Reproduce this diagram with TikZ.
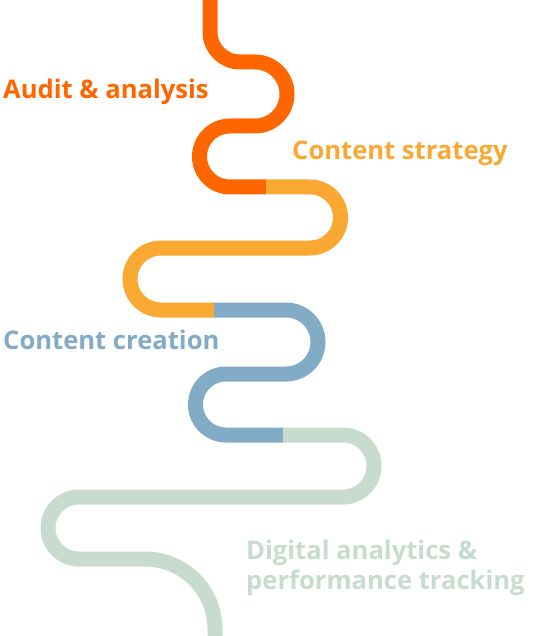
\documentclass[tikz,border=0pt]{standalone}
\usepackage{fontspec}
\setmainfont{Open Sans}
\usepackage{tikz}
\usetikzlibrary{positioning}
\definecolor{auditorange}{HTML}{FF6600}
\definecolor{strategyyellow}{HTML}{F9A832}
\definecolor{creationblue}{HTML}{82ABC6}
\definecolor{trackinggreen}{HTML}{C8DBCF}
\tikzset{
        road/.style = {line width=15pt, line cap=butt},
        phase/.style = {anchor=base west, inner sep=0pt,
            font=\fontsize{25.6}{30}\selectfont\bfseries},
    }

\begin{document}
\begin{tikzpicture}[x=1pt,y=-1pt]
    \useasboundingbox (0,0) rectangle (544,636);

    % the winding road, one piece per phase
    \draw[road, auditorange] (210,-5) -- (210,32) arc(180:90:30) -- (255,62)
        arc(-90:90:32) -- (230,126) arc(-90:-270:30.5) -- (266,187);
    \draw[road, strategyyellow] (266,187) -- (310,187) arc(-90:90:30.5)
        -- (161,248) arc(-90:-270:31) -- (214,310);
    \draw[road, creationblue] (214,310) -- (286,310) arc(-90:90:32)
        -- (226,374) arc(-90:-270:30.5) -- (283,435);
    \draw[road, trackinggreen] (283,435) -- (343,435) arc(-90:90:31)
        -- (79,497) arc(-90:-270:31) -- (145,559) arc(-90:0:70) -- (215,650);

    % phase names
    \node[phase, text=auditorange] (audit) at (3,99) {Audit \& analysis};
    \node[phase, text=strategyyellow] (strategy) at (292,160) {Content strategy};
    \node[phase, text=creationblue] (creation) at (3,349) {Content creation};
    \node[phase, text=trackinggreen] (digital) at (246,559) {Digital analytics \&};
    \node[phase, text=trackinggreen, below=30pt of digital.base west, anchor=base west]
        (tracking) {performance tracking};
\end{tikzpicture}
\end{document}
